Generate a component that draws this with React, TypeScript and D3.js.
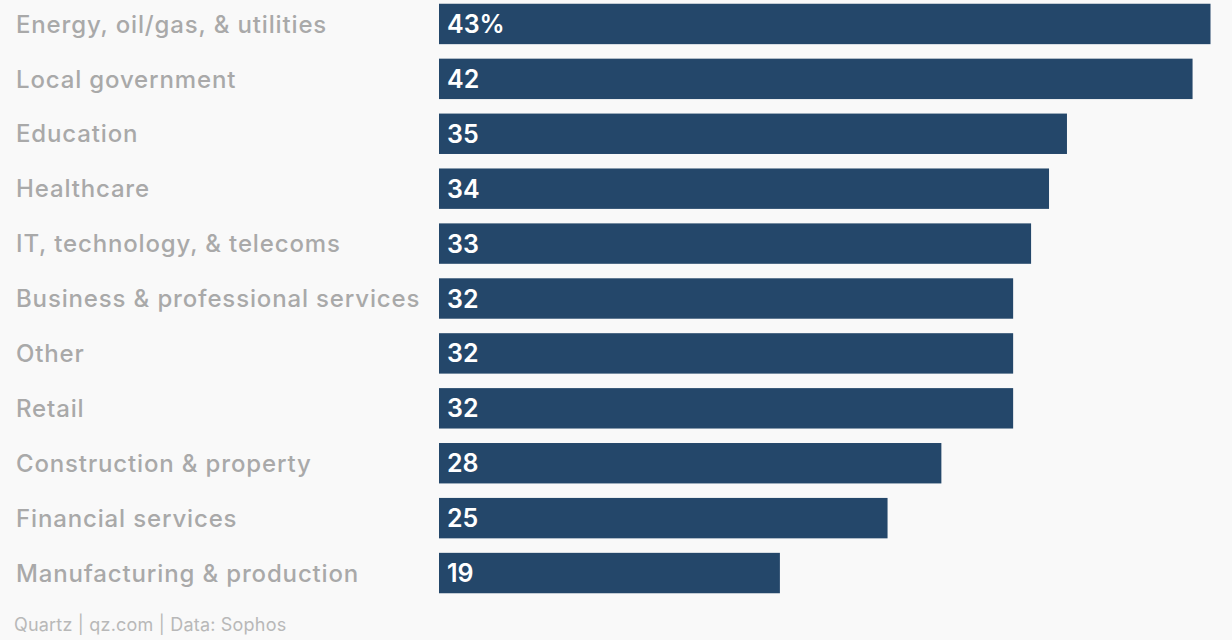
import React from "react";
import * as d3 from "d3";

const categories = [
  "Energy, oil/gas, & utilities",
  "Local government",
  "Education",
  "Healthcare",
  "IT, technology, & telecoms",
  "Business & professional services",
  "Other",
  "Retail",
  "Construction & property",
  "Financial services",
  "Manufacturing & production",
];
const values = [43, 42, 35, 34, 33, 32, 32, 32, 28, 25, 19];
const valueLabels = ["43%", "42", "35", "34", "33", "32", "32", "32", "28", "25", "19"];
const source = "Quartz | qz.com | Data: Sophos";

const W = 1232;
const H = 640;
const FONT = "Inter, 'Liberation Sans', Arial, sans-serif";

export default function App() {
  const x = d3.scaleLinear().domain([0, 43]).range([439, 1210.5]);
  const y = d3
    .scaleBand<string>()
    .domain(categories)
    .range([-3.5, 600.5])
    .paddingInner(0.264)
    .paddingOuter(0.132);
  return (
    <svg
      width={W}
      height={H}
      style={{ position: "fixed", left: 0, top: 0, background: "#f9f9f9" }}
    >
      <rect x={0} y={0} width={W} height={H} fill="#f9f9f9" />
      {categories.map((c, i) => {
        const yy = y(c)!;
        const bh = y.bandwidth();
        return (
          <g key={c}>
            <text
              x={16}
              y={yy + bh / 2}
              dy="0.36em"
              fill="#a9a9a9"
              fontFamily={FONT}
              fontSize={24}
              fontWeight={500}
              letterSpacing={0.85}
            >
              {c}
            </text>
            <rect x={x(0)} y={yy} width={x(values[i]) - x(0)} height={bh} fill="#24476a" />
            <text
              x={x(0) + 8}
              y={yy + bh / 2}
              dy="0.36em"
              fill="#ffffff"
              fontFamily={FONT}
              fontSize={25}
              fontWeight={600}
            >
              {valueLabels[i]}
            </text>
          </g>
        );
      })}
      <text
        x={14}
        y={631}
        fill="#b8b8b8"
        fontFamily={FONT}
        fontSize={18}
        letterSpacing={0.2}
      >
        {source}
      </text>
    </svg>
  );
}
